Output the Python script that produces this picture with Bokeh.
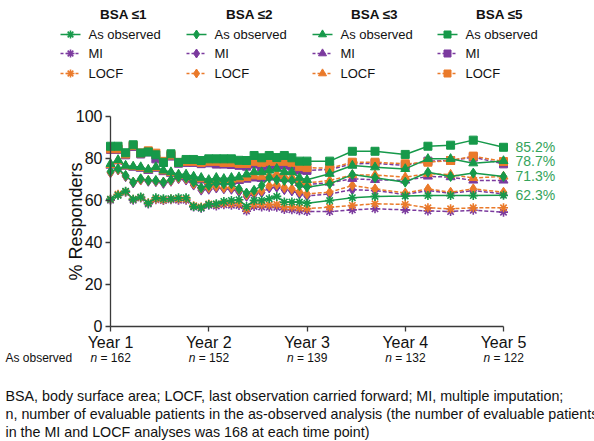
import numpy as np
from bokeh.plotting import figure
from bokeh.models import Range1d, FixedTicker
from bokeh.core.properties import value
from bokeh.embed import file_html
from bokeh.resources import INLINE

# ---------------- data ----------------
weeks = [52, 56, 60, 64, 68, 72, 76, 80, 84, 88, 92, 96, 100, 104, 108, 112, 116, 120,
         124, 128, 132, 136, 140, 144, 148, 152, 156, 168, 180, 192, 208, 220, 232, 244, 260]
year_ticks = [52, 104, 156, 208, 260]
year_labels = ["Year 1", "Year 2", "Year 3", "Year 4", "Year 5"]
n_observed = [162, 152, 139, 132, 122]

bsa1_obs = [60.4, 62.3, 64.3, 60.4, 61.5, 58.6, 61.2, 60.7, 60.7, 61.2, 61.2, 57.0, 56.4, 58.0, 58.3, 59.4, 59.9, 60.2,
            57.0, 59.9, 59.9, 60.7, 61.8, 59.1, 59.1, 59.1, 58.6, 59.8, 61.2, 61.8, 62.0, 62.2, 62.2, 62.2, 62.3]
bsa1_mi = [60.0, 62.5, 63.8, 60.0, 61.0, 58.2, 60.2, 59.8, 60.2, 60.0, 60.0, 56.8, 56.2, 57.6, 57.2, 57.8, 57.6, 57.5,
           54.8, 57.0, 56.8, 56.6, 56.6, 55.6, 55.4, 55.0, 54.6, 54.6, 55.4, 55.9, 55.4, 54.9, 54.6, 55.2, 54.3]
bsa1_locf = [60.4, 62.8, 64.0, 60.5, 61.3, 58.8, 60.6, 60.2, 60.6, 60.6, 60.6, 57.4, 56.8, 58.2, 58.0, 58.6, 58.4, 58.4,
             55.8, 58.0, 58.0, 57.8, 58.0, 56.8, 56.8, 56.4, 56.0, 56.7, 57.5, 58.3, 58.0, 56.4, 55.9, 56.4, 56.4]

bsa2_obs = [73.7, 75.0, 71.8, 68.6, 70.2, 69.4, 69.4, 68.6, 69.7, 71.0, 70.7, 68.6, 65.9, 67.0, 68.1, 67.8, 67.8, 65.4,
            63.4, 64.7, 67.0, 70.7, 69.7, 69.4, 69.4, 67.0, 66.2, 67.8, 72.2, 70.7, 68.6, 73.3, 71.3, 72.9, 71.3]
bsa2_mi = [73.0, 74.4, 71.2, 68.2, 69.6, 69.0, 68.8, 68.0, 69.0, 70.2, 69.6, 67.2, 64.8, 65.2, 65.8, 65.4, 65.2, 64.0,
           61.8, 62.8, 63.6, 65.8, 66.2, 65.0, 64.4, 63.0, 62.0, 63.0, 65.0, 64.6, 62.7, 64.6, 63.3, 64.6, 63.0]
bsa2_locf = [73.2, 74.6, 71.5, 68.6, 69.8, 69.4, 69.2, 68.6, 69.4, 70.6, 70.2, 67.8, 65.6, 66.0, 66.6, 66.0, 66.0, 65.0,
             62.6, 63.5, 64.5, 66.8, 67.4, 66.0, 65.4, 64.0, 63.0, 63.8, 67.0, 65.4, 63.4, 65.4, 63.8, 65.4, 63.8]

bsa3_obs = [77.3, 79.2, 76.5, 76.1, 75.8, 74.6, 75.8, 74.2, 73.4, 72.3, 72.3, 71.3, 70.7, 69.7, 70.7, 70.2, 70.7, 71.0,
            72.3, 73.4, 73.4, 74.2, 75.0, 73.4, 73.4, 70.7, 69.7, 72.6, 76.5, 75.7, 74.9, 79.7, 79.7, 77.6, 78.7]
bsa3_mi = [76.5, 78.5, 76.0, 75.5, 75.0, 74.0, 75.0, 73.4, 72.6, 71.4, 71.0, 70.2, 69.4, 68.4, 69.0, 68.6, 68.8, 69.2,
           69.8, 70.4, 70.2, 70.8, 71.4, 70.2, 70.0, 68.2, 67.4, 68.4, 70.2, 69.7, 69.4, 71.3, 71.0, 69.4, 69.4]
bsa3_locf = [76.8, 78.8, 76.2, 75.8, 75.4, 74.4, 75.4, 73.8, 73.0, 71.8, 71.6, 70.8, 70.0, 69.0, 69.6, 69.2, 69.6, 70.0,
             70.6, 71.4, 71.2, 71.8, 72.4, 71.2, 71.0, 69.0, 68.2, 69.4, 72.0, 72.0, 71.0, 72.6, 72.2, 70.6, 71.3]

bsa5_obs = [85.7, 85.7, 82.6, 86.4, 82.5, 83.0, 81.6, 78.0, 82.1, 78.0, 79.4, 79.4, 78.9, 79.7, 79.7, 79.7, 79.7, 79.0,
            78.9, 81.3, 80.2, 81.3, 80.3, 81.3, 80.2, 78.6, 78.6, 78.6, 83.3, 83.3, 81.8, 85.7, 86.2, 88.6, 85.2]
bsa5_mi = [84.2, 84.2, 81.6, 85.6, 82.0, 83.0, 79.7, 78.0, 81.0, 77.6, 78.0, 78.0, 77.4, 77.8, 77.2, 77.2, 77.0, 76.6,
           76.2, 77.2, 75.8, 76.8, 76.2, 76.8, 76.2, 74.4, 74.2, 74.6, 77.3, 77.6, 76.5, 78.6, 78.9, 80.5, 77.3]
bsa5_locf = [84.5, 84.5, 82.0, 86.0, 82.5, 83.5, 82.4, 78.5, 81.5, 78.0, 78.5, 78.5, 78.0, 78.5, 78.5, 78.0, 78.0, 77.5,
             77.5, 78.5, 78.0, 78.5, 78.5, 78.5, 78.0, 76.0, 75.5, 75.2, 78.1, 78.1, 77.3, 78.1, 78.9, 81.0, 78.4]

group_names = ["BSA \u22641", "BSA \u22642", "BSA \u22643", "BSA \u22645"]
method_names = ["As observed", "MI", "LOCF"]
end_labels = ["62.3%", "71.3%", "78.7%", "85.2%"]

# ---------------- style ----------------
GREEN = "#16994a"
PURPLE = "#7b3a9e"
ORANGE = "#ea7a2a"
LABEL_GREEN = "#34a35b"
INK = "#111111"
FONT = value("Liberation Sans")
markers = ["asterisk", "diamond", "triangle", "square"]
msizes = [9, 10, 9, 8]

W, H = 594, 441
X0_PX, X1_PX = 110.0, 503.0
PXW = (X1_PX - X0_PX) / (year_ticks[-1] - year_ticks[0])
Y0_PX, Y100_PX = 325.7, 115.7
PXY = (Y0_PX - Y100_PX) / 100.0


def dx(px):
    return year_ticks[0] + (px - X0_PX) / PXW


def dy(py):
    return (Y0_PX - py) / PXY


p = figure(width=W, height=H, x_range=Range1d(dx(0), dx(W)), y_range=Range1d(dy(H), dy(0)),
           output_backend="svg", toolbar_location=None, min_border=0)
p.min_border_left = p.min_border_right = p.min_border_top = p.min_border_bottom = 0
p.outline_line_color = None
p.grid.visible = False

# axes
xa = p.xaxis[0]
xa.fixed_location = 0
xa.bounds = (year_ticks[0], year_ticks[-1])
xa.ticker = FixedTicker(ticks=year_ticks)
xa.major_label_overrides = {t: l for t, l in zip(year_ticks, year_labels)}
ya = p.yaxis[0]
ya.fixed_location = year_ticks[0]
ya.bounds = (0, 100)
ya.ticker = FixedTicker(ticks=[0, 20, 40, 60, 80, 100])
for ax in (xa, ya):
    ax.axis_line_color = "#3a3a3a"
    ax.axis_line_width = 1.3
    ax.major_tick_line_color = "#3a3a3a"
    ax.major_tick_line_width = 1.3
    ax.major_tick_out = 5
    ax.major_tick_in = 0
    ax.minor_tick_line_color = None
    ax.major_label_text_font = "Liberation Sans"
    ax.major_label_text_font_size = "16px"
    ax.major_label_text_color = INK
    ax.major_label_standoff = 3

p.text(x=[dx(75)], y=[dy(221)], text=["% Responders"], angle=np.pi / 2, text_font=FONT,
       text_font_size="18px", text_align="center", text_baseline="middle", text_color=INK)

groups = [(bsa1_obs, bsa1_mi, bsa1_locf), (bsa2_obs, bsa2_mi, bsa2_locf),
          (bsa3_obs, bsa3_mi, bsa3_locf), (bsa5_obs, bsa5_mi, bsa5_locf)]


def draw_markers(xs, ys, color, marker, size):
    if marker == "asterisk":
        p.scatter(xs, ys, marker=marker, size=size, line_color=color, line_width=1.6)
    else:
        p.scatter(xs, ys, marker=marker, size=size, fill_color=color, line_color=color)


def draw(xs, ys, color, dash, marker, size):
    p.line(xs, ys, line_color=color, line_width=1.5, line_dash=dash)
    draw_markers(xs, ys, color, marker, size)


for gi, (obs, mi, locf) in enumerate(groups):
    draw(weeks, mi, PURPLE, "4 2", markers[gi], msizes[gi])
    draw(weeks, locf, ORANGE, "4 2", markers[gi], msizes[gi])
for gi, (obs, mi, locf) in enumerate(groups):
    draw(weeks, obs, GREEN, "solid", markers[gi], msizes[gi])

# end labels
p.text(x=[dx(515)] * 4, y=[g[0][-1] for g in groups], text=end_labels, text_font=FONT,
       text_font_size="14px", text_align="left", text_baseline="middle", text_color=LABEL_GREEN)

# legend
col_x = [60, 186, 312, 437]
title_cx = [123, 249, 374, 499]
row_y = [34, 53, 73]
p.text(x=[dx(c) for c in title_cx], y=[dy(14)] * 4, text=group_names, text_font=FONT,
       text_font_style=value("bold"), text_font_size="13.5px", text_align="center", text_baseline="middle",
       text_color=INK)
for gi in range(4):
    cx = col_x[gi]
    for k, (mname, color, dash) in enumerate(zip(method_names, [GREEN, PURPLE, ORANGE], ["solid", "3 2", "3 2"])):
        yy = dy(row_y[k])
        p.line([dx(cx), dx(cx + 20)], [yy, yy], line_color=color, line_width=1.5, line_dash=dash)
        draw_markers([dx(cx + 10)], [yy], color, markers[gi], msizes[gi] - 1)
        p.text(x=[dx(cx + 28)], y=[yy], text=[mname], text_font=FONT, text_font_size="13px",
               text_align="left", text_baseline="middle", text_color=INK)

# n row
p.text(x=[dx(5)], y=[dy(357)], text=["As observed"], text_font=FONT, text_font_size="12px",
       text_align="left", text_baseline="middle", text_color=INK)
for t, n in zip(year_ticks, n_observed):
    cpx = X0_PX + (t - year_ticks[0]) * PXW
    p.text(x=[dx(cpx - 20)], y=[dy(357)], text=["n"], text_font=FONT, text_font_size="12px",
           text_font_style=value("italic"), text_align="left", text_baseline="middle", text_color=INK)
    p.text(x=[dx(cpx - 10)], y=[dy(357)], text=["= %d" % n], text_font=FONT, text_font_size="12px",
           text_align="left", text_baseline="middle", text_color=INK)

foot = ["BSA, body surface area; LOCF, last observation carried forward; MI, multiple imputation;",
        "n, number of evaluable patients in the as-observed analysis (the number of evaluable patients",
        "in the MI and LOCF analyses was 168 at each time point)"]
p.text(x=[dx(5)] * 3, y=[dy(395), dy(413), dy(431)], text=foot, text_font=FONT, text_font_size="14.3px",
       text_align="left", text_baseline="middle", text_color=INK)

open("out.html", "w").write(file_html(p, INLINE))
